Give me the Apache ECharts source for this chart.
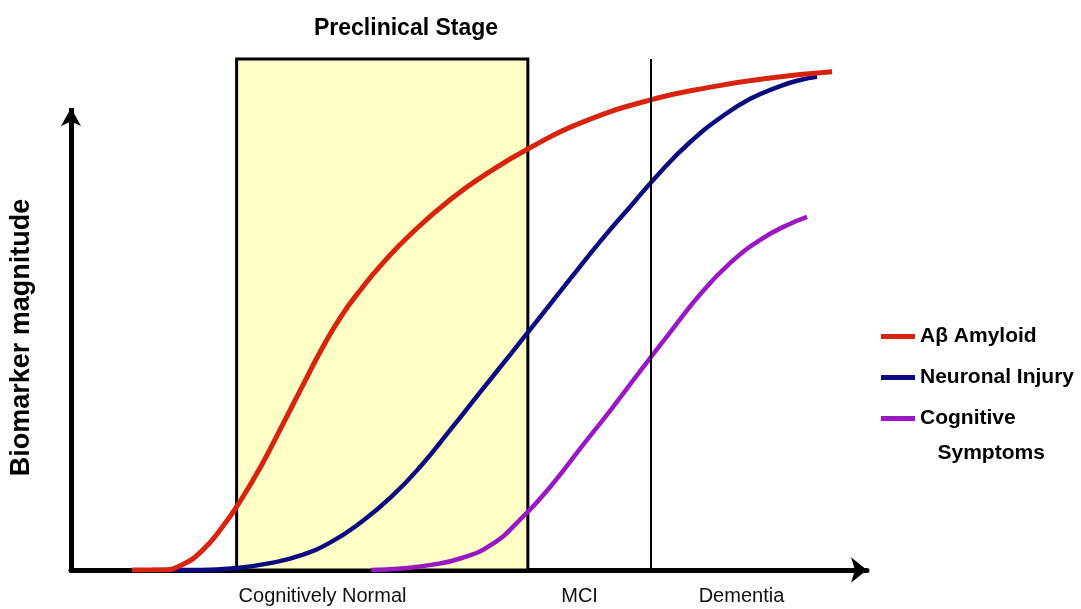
<!DOCTYPE html>
<html>
<head>
<meta charset="utf-8">
<script src="https://cdn.jsdelivr.net/npm/echarts@6/dist/echarts.min.js"></script>
<style>
html,body{margin:0;padding:0;background:#fff;}
#chart{width:1081px;height:609px;}
</style>
</head>
<body>
<div id="chart"></div>
<script>
// ---- data (x: disease progression, y: biomarker magnitude, arbitrary units) ----
const amyloid = [[7.74,0],[11.55,0],[14.09,1.0],[16.62,3.7],[19.16,8.2],[21.70,13.9],[24.24,20.5],[26.78,28.0],[29.31,35.6],[31.85,43.1],[34.39,49.7],[36.93,55.0],[39.47,59.7],[43.27,65.8],[48.35,72.6],[53.43,78.1],[58.12,82.4],[64.85,87.5],[73.73,92.0],[81.35,94.5],[88.96,96.3],[96.83,97.5]];
const neuronal = [[10.28,0],[16.62,0],[21.07,0.4],[25.51,1.4],[29.31,2.9],[33.12,5.5],[36.93,9.4],[40.74,14.3],[44.54,20.4],[48.35,27.6],[52.16,35.0],[55.96,42.3],[59.77,49.7],[63.58,57.1],[67.39,64.4],[71.19,71.2],[75.0,77.9],[78.81,83.8],[82.61,88.5],[86.42,92.2],[90.23,94.7],[92.77,95.9],[94.92,96.5]];
const cognitive = [[38.20,0],[42.01,0.3],[45.81,1.0],[49.62,2.3],[53.43,4.9],[57.23,10.0],[61.04,16.4],[64.85,23.9],[68.65,31.3],[72.46,39.0],[76.27,46.6],[80.08,54.0],[83.88,60.1],[87.69,64.6],[90.86,67.3],[93.65,69.1]];
const seriesNames = ['Aβ Amyloid', 'Neuronal Injury', 'Cognitive Symptoms'];
const stageLabels = ['Cognitively Normal', 'MCI', 'Dementia'];
const stageCenters = [32.0, 64.7, 85.3];
const preclinicalRange = [21.07, 58.12];
const dementiaStart = 73.73;
const titleText = 'Preclinical Stage';
const yAxisName = 'Biomarker magnitude';

const SANS = "'Liberation Sans',Arial,Helvetica,sans-serif";
const colors = ['#d8240e', '#0c0c80', '#9a18c4'];

const chart = echarts.init(document.getElementById('chart'), null, {renderer: 'canvas'});
const option = {
  animation: false,
  backgroundColor: '#ffffff',
  title: {
    text: titleText,
    left: 314, top: 17, padding: 0,
    textStyle: {fontFamily: SANS, fontSize: 23, fontWeight: 'bold', color: '#000'}
  },
  grid: {left: 69, right: 214, top: 59, bottom: 39},
  xAxis: {
    type: 'value', min: 0, max: 101.27,
    splitLine: {show: false},
    axisTick: {show: false},
    axisLine: {show: true, lineStyle: {color: '#000', width: 5}, symbol: ['none', 'arrow'], symbolSize: [19, 16]},
    axisLabel: {
      customValues: stageCenters,
      margin: 16,
      fontFamily: SANS, fontSize: 20, color: '#111',
      formatter: function (v) {
        const i = stageCenters.findIndex(c => Math.abs(c - v) < 1e-6);
        return i >= 0 ? stageLabels[i] : '';
      }
    }
  },
  yAxis: {
    type: 'value', min: 0, max: 100,
    name: yAxisName, nameLocation: 'middle', nameRotate: 90, nameGap: 36,
    nameTextStyle: {fontFamily: SANS, fontSize: 27, fontWeight: 'bold', color: '#000', padding: [0, 46, 0, 0]},
    splitLine: {show: false}, axisTick: {show: false}, axisLabel: {show: false},
    axisLine: {show: false}
  },
  legend: [
    {
      data: [seriesNames[0], seriesNames[1]],
      orient: 'vertical', left: 881, top: 324, padding: 0, itemGap: 16,
      icon: 'rect', itemWidth: 34, itemHeight: 5,
      selectedMode: false,
      textStyle: {fontFamily: SANS, fontSize: 21, fontWeight: 'bold', color: '#000', lineHeight: 25}
    },
    {
      data: [seriesNames[2]],
      orient: 'vertical', left: 881, top: 366, padding: 0,
      icon: 'rect', itemWidth: 34, itemHeight: 5,
      selectedMode: false,
      formatter: function () { return '\nCognitive\n   Symptoms'; },
      textStyle: {fontFamily: SANS, fontSize: 21, fontWeight: 'bold', color: '#000', lineHeight: 35}
    }
  ],
  series: [
    {
      name: 'frame', type: 'line', data: [], z: 1, silent: true,
      markArea: {
        silent: true,
        itemStyle: {color: '#ffffc6', borderColor: '#000', borderWidth: 3},
        data: [[{coord: [preclinicalRange[0], 0]}, {coord: [preclinicalRange[1], 100]}]]
      },
      markLine: {
        silent: true, animation: false,
        label: {show: false},
        data: [
          [{coord: [dementiaStart, 0], symbol: 'none', lineStyle: {color: '#000', width: 2, type: 'solid'}},
           {coord: [dementiaStart, 100], symbol: 'none'}],
          [{coord: [0, 0], symbol: 'none', lineStyle: {color: '#000', width: 5, type: 'solid'}},
           {coord: [0, 90.4], symbol: 'arrow', symbolSize: [15, 18]}]
        ]
      }
    },
    {name: seriesNames[1], type: 'line', data: neuronal, smooth: 0.5, showSymbol: false, symbol: 'none', z: 3,
     color: colors[1], lineStyle: {color: colors[1], width: 4.5}},
    {name: seriesNames[2], type: 'line', data: cognitive, smooth: 0.5, showSymbol: false, symbol: 'none', z: 3,
     color: colors[2], lineStyle: {color: colors[2], width: 4.5}},
    {name: seriesNames[0], type: 'line', data: amyloid, smooth: 0.5, showSymbol: false, symbol: 'none', z: 4,
     color: colors[0], lineStyle: {color: colors[0], width: 5}}
  ]
};
chart.setOption(option);
</script>
</body>
</html>
